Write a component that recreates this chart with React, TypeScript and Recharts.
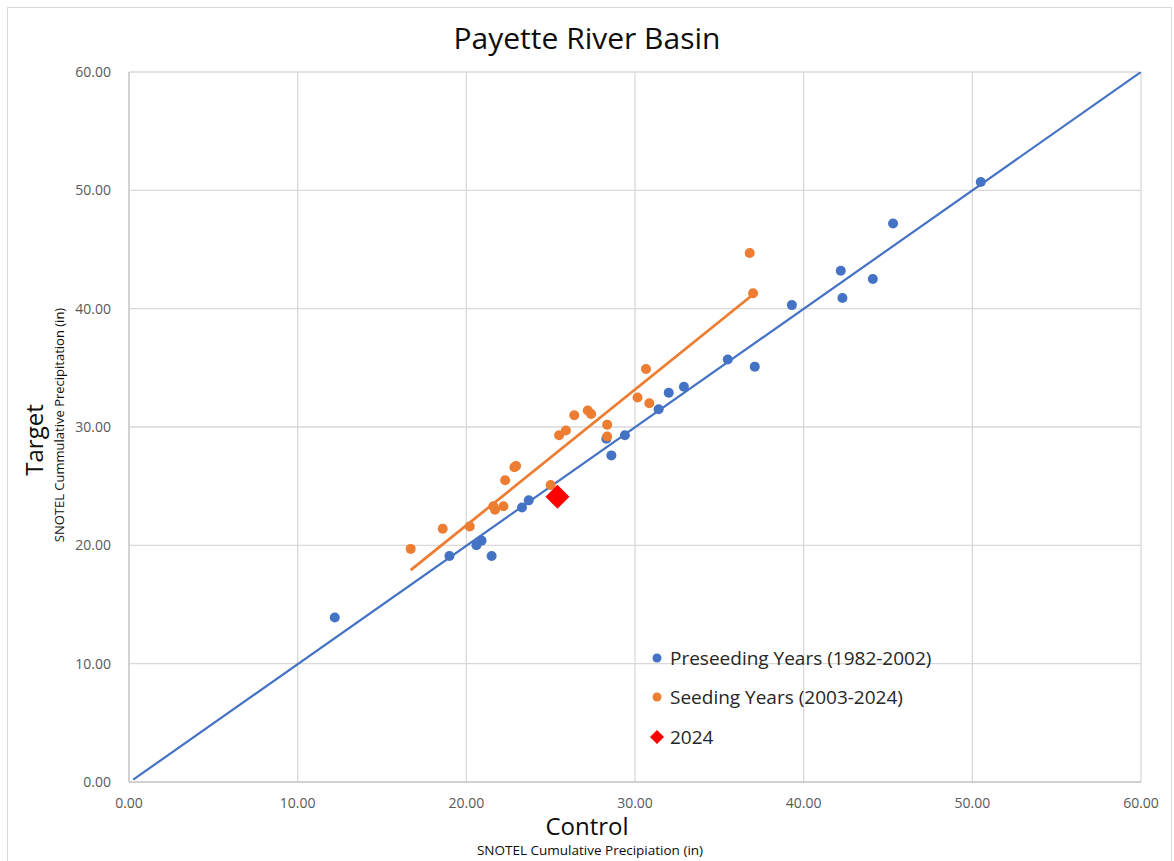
import React from "react";
import {
  ScatterChart,
  Scatter,
  XAxis,
  YAxis,
  CartesianGrid,
} from "recharts";

// Preseeding years (1982-2002): control vs target, inches
const preseedControl = [
  12.2, 19.0, 20.6, 20.9, 21.5, 23.3, 23.7, 28.3, 28.6, 29.4, 31.4,
  32.0, 32.9, 35.5, 37.1, 39.3, 42.2, 42.3, 44.1, 45.3, 50.5,
];
const preseedTarget = [
  13.9, 19.1, 20.0, 20.4, 19.1, 23.2, 23.8, 29.0, 27.6, 29.3, 31.5,
  32.9, 33.4, 35.7, 35.1, 40.3, 43.2, 40.9, 42.5, 47.2, 50.7,
];

// Seeding years (2003-2024)
const seedControl = [
  16.7, 18.6, 20.2, 21.6, 21.7, 22.2, 22.3, 22.85, 22.95, 25.0, 25.5,
  25.9, 26.4, 27.2, 27.4, 28.35, 28.35, 30.15, 30.65, 30.85, 36.8, 37.0,
];
const seedTarget = [
  19.7, 21.4, 21.6, 23.3, 23.0, 23.3, 25.5, 26.6, 26.7, 25.1, 29.3,
  29.7, 31.0, 31.4, 31.1, 30.2, 29.2, 32.5, 34.9, 32.0, 44.7, 41.3,
];

const current2024 = [{ x: 25.4, y: 24.1 }];

// trendline endpoints
const preseedTrendX = [0.25, 60];
const preseedTrendY = [0.2, 60];
const seedTrendX = [16.7, 37.0];
const seedTrendY = [17.9, 41.2];

const axisTicks = [0, 10, 20, 30, 40, 50, 60];

const toPoints = (xs: number[], ys: number[]) =>
  xs.map((x, i) => ({ x, y: ys[i] }));

const BLUE = "#4472c4";
const ORANGE = "#ed7d31";
const RED = "#ff0000";
const FONT = "'Open Sans', 'Noto Sans', sans-serif";

function Dot({ cx, cy, fill }: any) {
  if (cx == null || cy == null) return <g />;
  return <circle cx={cx} cy={cy} r={5} fill={fill} />;
}

function Diamond({ cx, cy }: any) {
  if (cx == null || cy == null) return <g />;
  const d = 12;
  return (
    <polygon
      points={`${cx},${cy - d} ${cx + d},${cy} ${cx},${cy + d} ${cx - d},${cy}`}
      fill={RED}
    />
  );
}

function NoShape() {
  return <g />;
}

function LegendBox() {
  const items = [
    { label: "Preseeding Years (1982-2002)", kind: "dot", color: BLUE },
    { label: "Seeding Years (2003-2024)", kind: "dot", color: ORANGE },
    { label: "2024", kind: "diamond", color: RED },
  ];
  return (
    <div
      style={{
        position: "absolute",
        left: 648,
        top: 638,
        fontFamily: FONT,
        fontSize: 19,
        color: "#262626",
      }}
    >
      {items.map((it) => (
        <div
          key={it.label}
          style={{ display: "flex", alignItems: "center", height: 39.5 }}
        >
          <svg width={18} height={18} style={{ marginRight: 4 }}>
            {it.kind === "dot" ? (
              <circle cx={9} cy={9} r={4.5} fill={it.color} />
            ) : (
              <polygon points="9,2 16,9 9,16 2,9" fill={it.color} />
            )}
          </svg>
          <span>{it.label}</span>
        </div>
      ))}
    </div>
  );
}

export default function App() {
  const preseed = toPoints(preseedControl, preseedTarget);
  const seed = toPoints(seedControl, seedTarget);
  const preseedTrend = toPoints(preseedTrendX, preseedTrendY);
  const seedTrend = toPoints(seedTrendX, seedTrendY);

  return (
    <div
      style={{
        position: "absolute",
        left: 0,
        top: 0,
        width: 1174,
        height: 861,
        background: "#fff",
        overflow: "hidden",
        fontFamily: FONT,
      }}
    >
      <div
        style={{
          position: "absolute",
          left: 7,
          top: 7,
          width: 1163,
          height: 870,
          border: "1px solid #d9d9d9",
        }}
      />
      <div
        style={{
          position: "absolute",
          top: 17,
          left: 0,
          width: 1174,
          textAlign: "center",
          fontSize: 30,
          color: "#0d0d0d",
        }}
      >
        Payette River Basin
      </div>

      <ScatterChart
        width={1174}
        height={861}
        margin={{ top: 72, right: 33, left: 69, bottom: 49 }}
        style={{ position: "absolute", left: 0, top: 0 }}
      >
        <CartesianGrid stroke="#d9d9d9" strokeWidth={1.3} />
        <XAxis
          type="number"
          dataKey="x"
          domain={[0, 60]}
          ticks={axisTicks}
          tickFormatter={(v: number) => v.toFixed(2)}
          axisLine={{ stroke: "#bfbfbf" }}
          tickLine={false}
          tick={{ fill: "#595959", fontSize: 14, fontFamily: FONT }}
          tickMargin={10}
          height={30}
          allowDataOverflow
        />
        <YAxis
          type="number"
          dataKey="y"
          domain={[0, 60]}
          ticks={axisTicks}
          tickFormatter={(v: number) => v.toFixed(2)}
          axisLine={{ stroke: "#bfbfbf" }}
          tickLine={false}
          tick={{ fill: "#595959", fontSize: 14, fontFamily: FONT }}
          tickMargin={12}
          width={60}
          allowDataOverflow
        />
        <Scatter
          data={preseedTrend}
          line={{ stroke: BLUE, strokeWidth: 2.2 }}
          shape={NoShape}
          legendType="none"
          isAnimationActive={false}
        />
        <Scatter
          data={seedTrend}
          line={{ stroke: ORANGE, strokeWidth: 2.8 }}
          shape={NoShape}
          legendType="none"
          isAnimationActive={false}
        />
        <Scatter
          name="Preseeding Years (1982-2002)"
          data={preseed}
          fill={BLUE}
          shape={(p: any) => <Dot {...p} fill={BLUE} />}
          isAnimationActive={false}
        />
        <Scatter
          name="Seeding Years (2003-2024)"
          data={seed}
          fill={ORANGE}
          shape={(p: any) => <Dot {...p} fill={ORANGE} />}
          isAnimationActive={false}
        />
        <Scatter
          name="2024"
          data={current2024}
          fill={RED}
          shape={Diamond}
          isAnimationActive={false}
        />
      </ScatterChart>

      {/* y axis titles */}
      <div
        style={{
          position: "absolute",
          left: 33,
          top: 440,
          transform: "translate(-50%, -50%) rotate(-90deg)",
          fontSize: 24,
          color: "#0d0d0d",
          whiteSpace: "nowrap",
        }}
      >
        Target
      </div>
      <div
        style={{
          position: "absolute",
          left: 59,
          top: 425,
          transform: "translate(-50%, -50%) rotate(-90deg)",
          fontSize: 13,
          color: "#0d0d0d",
          whiteSpace: "nowrap",
        }}
      >
        SNOTEL Cummulative Precipitation (in)
      </div>

      {/* x axis titles */}
      <div
        style={{
          position: "absolute",
          left: 587,
          top: 825,
          transform: "translate(-50%, -50%)",
          fontSize: 24,
          color: "#0d0d0d",
          whiteSpace: "nowrap",
        }}
      >
        Control
      </div>
      <div
        style={{
          position: "absolute",
          left: 590,
          top: 850,
          transform: "translate(-50%, -50%)",
          fontSize: 13.5,
          color: "#0d0d0d",
          whiteSpace: "nowrap",
        }}
      >
        SNOTEL Cumulative Precipiation (in)
      </div>

      <LegendBox />
    </div>
  );
}
